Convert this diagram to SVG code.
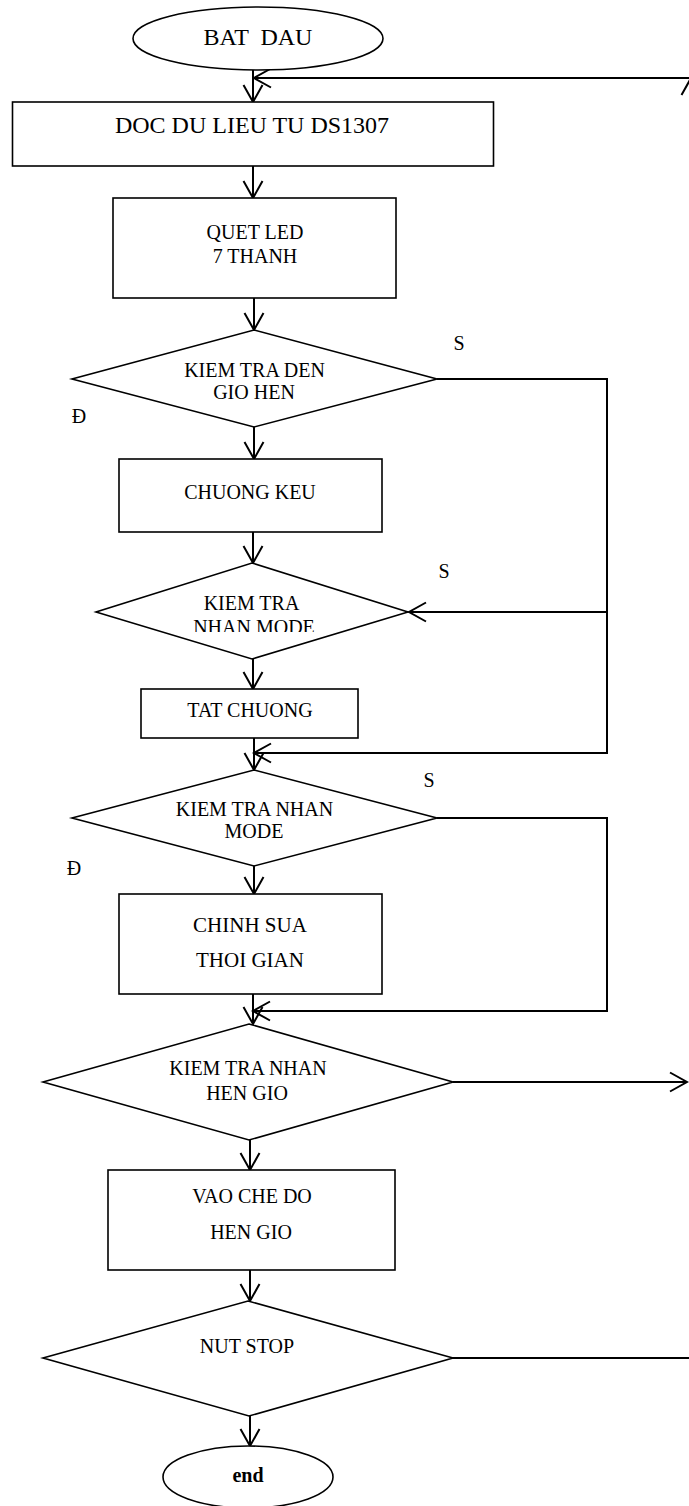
<svg xmlns="http://www.w3.org/2000/svg" width="689" height="1506" viewBox="0 0 689 1506">
<style>
.shape{fill:#fff;stroke:#000;stroke-width:1.6}
.conn{fill:none;stroke:#000;stroke-width:2}
.t{font-family:"Liberation Serif","Times New Roman",serif;font-size:20px;fill:#000;text-anchor:middle}
.big{font-size:24px}
.lbl{font-family:"Liberation Serif","Times New Roman",serif;font-size:20px;fill:#000;text-anchor:middle}
</style>
<defs>
<marker id="ah" markerUnits="userSpaceOnUse" markerWidth="22" markerHeight="24" refX="19" refY="12" orient="auto">
<path d="M2,2.5 L19,12 L2,21.5" fill="none" stroke="#000" stroke-width="2"/>
</marker>
<clipPath id="clipNM"><rect x="0" y="598" width="689" height="34"/></clipPath>
</defs>

<g id="connectors">
<path class="conn" d="M253,70 V102" marker-end="url(#ah)"/>
<path class="conn" d="M691,78 H254" marker-end="url(#ah)"/>
<path class="conn" d="M253,166 V198" marker-end="url(#ah)"/>
<path class="conn" d="M254,298 V330" marker-end="url(#ah)"/>
<path class="conn" d="M254,427 V459" marker-end="url(#ah)"/>
<path class="conn" d="M253,532 V563" marker-end="url(#ah)"/>
<path class="conn" d="M253,659 V689" marker-end="url(#ah)"/>
<path class="conn" d="M254,738 V770" marker-end="url(#ah)"/>
<path class="conn" d="M437,379 H607 V753 H254" marker-end="url(#ah)"/>
<path class="conn" d="M607,612 H409" marker-end="url(#ah)"/>
<path class="conn" d="M254,866 V894" marker-end="url(#ah)"/>
<path class="conn" d="M437,818 H607 V1011 H253" marker-end="url(#ah)"/>
<path class="conn" d="M253,994 V1024" marker-end="url(#ah)"/>
<path class="conn" d="M453,1082 H687" marker-end="url(#ah)"/>
<path class="conn" d="M250,1140 V1170" marker-end="url(#ah)"/>
<path class="conn" d="M250,1270 V1301" marker-end="url(#ah)"/>
<path class="conn" d="M437,1358 H691 V78" marker-end="url(#ah)"/>
<path class="conn" d="M250,1416 V1446" marker-end="url(#ah)"/>
</g>

<g id="start">
<ellipse class="shape" cx="258" cy="38.5" rx="125" ry="31.5"/>
<text class="t big" x="258" y="45" xml:space="preserve">BAT  DAU</text>
</g>

<g id="doc">
<rect class="shape" x="12.5" y="102" width="481" height="64"/>
<text class="t big" x="252" y="133">DOC DU LIEU TU DS1307</text>
</g>

<g id="quetled">
<rect class="shape" x="113" y="198" width="283" height="100"/>
<text class="t" x="255" y="239">QUET LED</text>
<text class="t" x="255" y="263">7 THANH</text>
</g>

<g id="d1">
<polygon class="shape" points="254,330 437,379 254,427 72,379"/>
<text class="t" x="254.5" y="377">KIEM TRA DEN</text>
<text class="t" x="254" y="399">GIO HEN</text>
<text class="lbl" x="459" y="350">S</text>
<text class="lbl" x="79" y="423">Đ</text>
</g>

<g id="chuongkeu">
<rect class="shape" x="119" y="459" width="263" height="73"/>
<text class="t" x="250" y="499">CHUONG KEU</text>
</g>

<g id="d2">
<polygon class="shape" points="252,563 408,612 252,659 96,612"/>
<text class="t" x="251.5" y="610">KIEM TRA</text>
<text class="t" x="254" y="634" clip-path="url(#clipNM)">NHAN MODE</text>
<text class="lbl" x="444" y="578">S</text>
</g>

<g id="tatchuong">
<rect class="shape" x="141" y="689" width="217" height="49"/>
<text class="t" x="250" y="717">TAT CHUONG</text>
</g>

<g id="d3">
<polygon class="shape" points="254,770 437,818 254,866 72,818"/>
<text class="t" x="254.5" y="816">KIEM TRA NHAN</text>
<text class="t" x="254" y="838">MODE</text>
<text class="lbl" x="429" y="787">S</text>
<text class="lbl" x="74" y="875">Đ</text>
</g>

<g id="chinhsua">
<rect class="shape" x="119" y="894" width="263" height="100"/>
<text class="t" x="250" y="932" style="font-size:21px">CHINH SUA</text>
<text class="t" x="250" y="967" style="font-size:21px">THOI GIAN</text>
</g>

<g id="d4">
<polygon class="shape" points="249,1024 453,1082 249,1140 43,1082"/>
<text class="t" x="248" y="1075">KIEM TRA NHAN</text>
<text class="t" x="247" y="1100">HEN GIO</text>
</g>

<g id="vaochedo">
<rect class="shape" x="108" y="1170" width="287" height="100"/>
<text class="t" x="252" y="1203">VAO CHE DO</text>
<text class="t" x="251" y="1239">HEN GIO</text>
</g>

<g id="d5">
<polygon class="shape" points="248,1301 453,1358 249,1416 43,1358"/>
<text class="t" x="247" y="1353">NUT STOP</text>
</g>

<g id="end">
<ellipse class="shape" cx="248" cy="1477" rx="85" ry="31"/>
<text class="t" x="248" y="1482" style="font-weight:bold">end</text>
</g>
</svg>
